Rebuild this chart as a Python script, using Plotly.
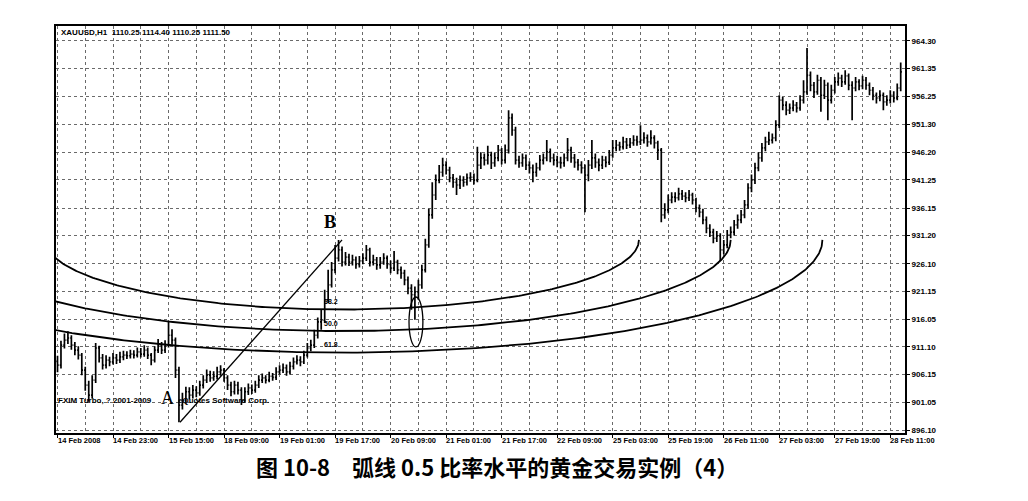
import math
import plotly.graph_objects as go

# ---------------- data ----------------
symbol_header = "XAUUSD,H1  1110.25 1114.40 1110.25 1111.50"
copyright_left = "FXIM Turbo, ? 2001-2009"
copyright_right = "eQuotes Software Corp."
caption_text = "图 10-8　弧线 0.5 比率水平的黄金交易实例（4）"

date_labels = ["14 Feb 2008", "14 Feb 23:00", "15 Feb 15:00", "18 Feb 09:00",
               "19 Feb 01:00", "19 Feb 17:00", "20 Feb 09:00", "21 Feb 01:00",
               "21 Feb 17:00", "22 Feb 09:00", "25 Feb 03:00", "25 Feb 19:00",
               "26 Feb 11:00", "27 Feb 03:00", "27 Feb 19:00", "28 Feb 11:00"]
bars_per_label = 16

price_ticks = [896.10, 901.05, 906.15, 911.10, 916.05, 921.15, 926.10, 931.20,
               936.15, 941.25, 946.20, 951.30, 956.25, 961.35, 966.30]
price_tick_text = ["896.10", "901.05", "906.15", "911.10", "916.05", "921.15",
                   "926.10", "931.20", "936.15", "941.25", "946.20", "951.30",
                   "956.25", "961.35", "964.30"]

first_open = 908.5
closes = [
    907.8, 911.4, 912.3, 912.7, 911.4, 910.5, 909.6, 906.9, 904.2, 902.4,
    905.1, 910.9, 909.1, 907.8, 908.7, 908.4, 909.1, 908.7, 909.3, 909.6,
    909.5, 909.8, 909.6, 910.2, 909.8, 910.5, 909.6, 908.7, 910.5, 911.4,
    910.5, 911.4, 913.2, 912.3, 906.9, 900.6, 901.5, 903.0, 902.4, 903.3,
    902.8, 904.2, 905.1, 906.0, 905.5, 905.8, 906.6, 906.9, 905.5, 904.2,
    903.0, 904.2, 903.3, 901.5, 903.0, 903.7, 903.3, 904.2, 905.1, 905.5,
    905.1, 905.8, 905.6, 906.6, 906.9, 907.3, 906.6, 907.6, 908.4, 908.7,
    908.4, 909.6, 910.9, 911.4, 913.2, 915.6, 915.9, 919.6, 922.3, 925.0,
    927.1, 928.6, 926.4, 927.3, 926.4, 926.8, 926.0, 926.6, 927.1, 928.6,
    926.4, 926.8, 925.9, 926.4, 927.1, 926.0, 925.3, 926.4, 925.0, 924.4,
    923.2, 921.7, 920.5, 921.0, 922.3, 925.0, 929.5, 934.9, 938.5, 941.2,
    942.6, 943.9, 943.0, 941.6, 940.8, 940.3, 941.2, 940.8, 941.6, 941.7,
    941.2, 943.9, 945.2, 944.8, 945.7, 944.3, 945.2, 946.6, 944.8, 946.6,
    952.4, 950.2, 944.8, 944.3, 945.2, 943.9, 943.4, 942.6, 943.4, 944.8,
    945.2, 946.3, 945.2, 944.8, 944.4, 944.3, 945.2, 946.6, 945.2, 944.4,
    943.9, 943.4, 942.1, 943.9, 945.2, 944.4, 943.9, 944.8, 944.4, 945.7,
    947.0, 947.5, 947.2, 948.1, 947.5, 947.9, 948.4, 948.1, 948.4, 948.8,
    948.1, 948.8, 947.9, 946.6, 934.9, 935.8, 937.6, 938.1, 938.0, 938.7,
    938.3, 938.0, 938.5, 937.6, 936.2, 935.4, 934.0, 932.5, 931.8, 930.7,
    931.1, 928.6, 929.5, 931.3, 931.8, 933.1, 934.0, 934.9, 936.7, 939.8,
    941.2, 943.4, 945.2, 947.0, 948.1, 948.4, 948.8, 951.1, 955.6, 954.7,
    953.8, 954.2, 954.7, 954.2, 955.6, 957.1, 960.1, 958.3, 957.1, 959.2,
    956.5, 958.3, 955.6, 957.4, 958.9, 959.6, 958.9, 960.0, 958.3, 957.8,
    958.9, 958.2, 959.2, 958.3, 957.4, 956.5, 956.0, 956.5, 955.3, 955.6,
    956.5, 956.0, 957.8, 960.7]
highs = [
    909.5, 912.2, 913.5, 913.9, 913.2, 912.0, 911.2, 910.0, 907.5, 905.0,
    906.0, 911.8, 911.3, 909.8, 909.6, 909.3, 910.0, 909.8, 910.2, 910.4,
    910.3, 910.6, 910.5, 911.0, 910.9, 911.4, 911.0, 910.0, 911.2, 912.5,
    912.0, 912.3, 915.6, 914.3, 912.8, 907.5, 902.8, 903.9, 903.8, 904.2,
    904.0, 905.0, 906.0, 907.0, 906.8, 906.7, 907.5, 907.8, 907.3, 906.0,
    904.8, 905.0, 904.8, 903.8, 903.8, 904.5, 904.3, 905.0, 906.0, 906.3,
    906.0, 906.6, 906.4, 907.4, 907.8, 908.1, 907.9, 908.4, 909.2, 909.6,
    909.4, 910.4, 911.8, 912.4, 914.2, 916.4, 917.8, 921.4, 925.0, 926.4,
    929.5, 930.4, 929.2, 928.2, 927.9, 927.7, 927.4, 927.5, 928.0, 929.5,
    929.0, 927.7, 927.3, 927.3, 928.0, 927.6, 926.7, 928.4, 926.8, 925.6,
    925.0, 923.8, 922.4, 922.0, 923.2, 925.9, 930.6, 936.0, 940.8, 942.2,
    943.9, 945.2, 944.6, 943.6, 942.3, 941.6, 942.0, 941.9, 942.4, 942.6,
    942.4, 947.2, 946.2, 946.0, 947.4, 946.3, 946.1, 947.5, 947.0, 947.6,
    953.8, 953.2, 950.8, 945.6, 946.0, 945.8, 944.6, 944.0, 944.3, 945.7,
    946.0, 948.4, 946.9, 946.0, 945.6, 945.4, 946.0, 948.8, 947.2, 945.9,
    945.0, 944.6, 944.0, 944.8, 948.4, 946.0, 945.1, 945.6, 945.5, 946.6,
    948.4, 948.4, 948.1, 949.0, 948.8, 948.8, 949.3, 949.2, 951.1, 949.8,
    949.4, 950.2, 949.3, 948.3, 947.0, 937.0, 938.6, 939.0, 939.0, 939.8,
    939.4, 939.0, 939.4, 938.9, 938.0, 936.8, 936.0, 934.6, 933.2, 932.4,
    932.0, 931.6, 930.4, 932.2, 932.8, 934.0, 935.0, 935.8, 937.6, 940.6,
    942.2, 944.3, 946.2, 947.9, 949.0, 949.9, 949.6, 952.0, 956.5, 956.2,
    955.4, 955.0, 955.6, 955.3, 956.5, 959.2, 965.0, 960.8, 958.9, 960.2,
    959.8, 959.3, 958.8, 958.4, 959.8, 960.6, 960.2, 961.0, 960.4, 959.0,
    959.8, 959.4, 960.0, 959.8, 958.8, 958.0, 957.0, 957.4, 957.0, 956.5,
    957.4, 957.2, 958.6, 962.4]
lows = [
    906.5, 907.2, 910.8, 911.6, 910.6, 909.6, 908.8, 906.0, 903.2, 901.2,
    901.8, 904.6, 908.3, 907.0, 907.2, 907.6, 907.9, 908.0, 908.2, 908.7,
    908.9, 909.0, 909.0, 909.2, 909.2, 909.3, 908.9, 907.8, 908.3, 910.0,
    909.8, 910.0, 911.0, 911.5, 905.5, 897.5, 899.8, 900.9, 901.6, 901.8,
    902.0, 902.3, 903.6, 904.6, 904.8, 905.0, 905.2, 905.9, 904.8, 903.3,
    902.2, 902.5, 902.5, 900.6, 901.0, 902.4, 902.6, 902.8, 903.7, 904.6,
    904.5, 904.7, 905.0, 905.1, 906.1, 906.4, 905.9, 906.1, 907.0, 907.9,
    907.6, 908.0, 909.2, 910.3, 910.9, 912.6, 914.2, 915.4, 919.0, 921.8,
    924.4, 926.5, 925.6, 925.8, 925.7, 925.8, 925.2, 925.4, 926.0, 926.6,
    925.6, 925.8, 925.0, 925.2, 925.9, 925.2, 924.4, 924.8, 924.2, 923.4,
    922.2, 920.6, 917.8, 916.0, 919.6, 921.6, 924.5, 929.0, 934.2, 937.6,
    940.6, 941.8, 942.2, 940.8, 939.8, 938.5, 939.6, 940.0, 940.2, 940.9,
    940.4, 940.8, 943.2, 943.8, 944.0, 943.2, 943.6, 944.6, 944.0, 944.2,
    946.0, 949.2, 944.0, 943.4, 943.6, 943.0, 942.4, 940.8, 941.8, 942.9,
    944.0, 944.6, 944.4, 943.8, 943.5, 943.3, 943.6, 944.6, 944.3, 943.4,
    942.9, 942.4, 935.4, 941.0, 943.2, 943.4, 942.8, 943.2, 943.5, 943.9,
    945.2, 946.4, 946.5, 946.7, 946.8, 947.0, 947.4, 947.4, 947.5, 947.8,
    947.2, 947.6, 946.9, 944.8, 933.6, 934.2, 935.2, 937.0, 937.2, 937.5,
    937.6, 937.2, 937.4, 936.8, 935.4, 934.5, 933.2, 931.6, 930.9, 929.8,
    930.0, 926.6, 927.8, 928.9, 930.7, 931.2, 932.4, 933.4, 934.3, 936.0,
    939.0, 940.5, 942.8, 944.5, 946.4, 947.5, 947.8, 948.2, 950.6, 953.8,
    952.9, 953.1, 953.6, 953.4, 953.7, 955.0, 956.6, 957.2, 956.0, 956.6,
    953.5, 955.8, 952.0, 955.0, 956.8, 958.2, 958.0, 958.4, 957.4, 952.0,
    957.2, 957.4, 957.6, 957.5, 956.5, 955.6, 955.0, 955.4, 953.8, 954.6,
    955.0, 955.2, 955.6, 957.2]

# Fibonacci arc construction points (bar index, price)
point_a = (35.3, 897.5)
point_b = (82.0, 930.4)
fib_ratios = [0.382, 0.5, 0.618]
fib_labels = ["38.2", "50.0", "61.8"]
arc_full_width_bars = 224          # horizontal radius of a 100% arc, in bars
highlight_bar, highlight_price = 103.3, 915.6   # circled low
highlight_half_bars, highlight_half_price = 2.0, 4.5

# ---------------- figure geometry ----------------
W, H = 1028, 501
ML, MR, MT, MB = 56, 123, 26, 68
PW, PH = W - ML - MR, H - MT - MB
BAR_PX = 3.47
X_RANGE = [-1.5 / BAR_PX, -1.5 / BAR_PX + PW / BAR_PX]
Y_RANGE = [895.56, 968.99]


def px_x(p):
    return (p - ML) / PW


def px_y(p):
    return (H - MB - p) / PH


n = min(len(closes), len(highs), len(lows))
bars = list(range(n))
opens = [first_open] + closes[:n - 1]

fig = go.Figure()

fig.add_trace(go.Ohlc(
    x=bars, open=opens, high=highs[:n], low=lows[:n], close=closes[:n],
    increasing=dict(line=dict(color="black", width=1.7)),
    decreasing=dict(line=dict(color="black", width=1.7)),
    tickwidth=0.35, hoverinfo="skip", showlegend=False))

# trend line A -> B
fig.add_trace(go.Scatter(
    x=[point_a[0], point_b[0]], y=[point_a[1], point_b[1]], mode="lines",
    line=dict(color="black", width=1.3), hoverinfo="skip", showlegend=False))

# Fibonacci arcs centred on B
span = point_b[1] - point_a[1]
steps = 300
for r in fib_ratios:
    rx = arc_full_width_bars * r
    ry = span * r
    xs, ys = [], []
    for k in range(steps + 1):
        t = math.pi * k / steps
        xs.append(point_b[0] + rx * math.cos(t))
        ys.append(point_b[1] - ry * math.sin(t))
    fig.add_trace(go.Scatter(x=xs, y=ys, mode="lines",
                             line=dict(color="black", width=1.8),
                             hoverinfo="skip", showlegend=False))

# ellipse around the low touching the 50% arc
fig.add_shape(type="circle", xref="x", yref="y",
              x0=highlight_bar - highlight_half_bars, x1=highlight_bar + highlight_half_bars,
              y0=highlight_price - highlight_half_price, y1=highlight_price + highlight_half_price,
              line=dict(color="black", width=1.3))

annotations = []
small = dict(family="Liberation Sans", size=8, color="black", weight="bold")

annotations.append(dict(xref="paper", yref="paper", x=px_x(59), y=px_y(33),
                        xanchor="left", yanchor="middle", showarrow=False,
                        text=symbol_header, font=small))
annotations.append(dict(xref="paper", yref="paper", x=px_x(56), y=px_y(400),
                        xanchor="left", yanchor="middle", showarrow=False,
                        text=copyright_left, font=small))
annotations.append(dict(xref="paper", yref="paper", x=px_x(176), y=px_y(400),
                        xanchor="left", yanchor="middle", showarrow=False,
                        text=copyright_right, font=small))

# fib level labels
for r, lab in zip(fib_ratios, fib_labels):
    annotations.append(dict(xref="x", yref="y", x=point_b[0] - 5.8,
                            y=point_b[1] - span * r, yshift=8,
                            xanchor="left", yanchor="middle", showarrow=False,
                            text=lab, font=dict(family="Liberation Sans", size=7,
                                                color="black", weight="bold")))

# A / B labels
annotations.append(dict(xref="x", yref="y", x=point_a[0], y=point_a[1],
                        xshift=-12, yshift=24, showarrow=False, text="A",
                        font=dict(family="Liberation Serif", size=18, color="black")))
annotations.append(dict(xref="x", yref="y", x=point_b[0], y=point_b[1],
                        xshift=-12, yshift=18, showarrow=False, text="B",
                        font=dict(family="Liberation Serif", size=18, color="black",
                                  weight="bold")))

# date labels (left aligned at their tick, MetaTrader style)
for k, lab in enumerate(date_labels):
    annotations.append(dict(xref="x", yref="paper", x=k * bars_per_label,
                            y=px_y(440), xshift=-2, xanchor="left", yanchor="middle",
                            showarrow=False, text=lab,
                            font=dict(family="Liberation Sans", size=7.5,
                                      color="black", weight="bold")))

# caption
annotations.append(dict(xref="paper", yref="paper", x=px_x(497), y=px_y(466),
                        xanchor="center", yanchor="middle", showarrow=False,
                        text=caption_text,
                        font=dict(family="Noto Sans CJK SC", size=22, color="black",
                                  weight="bold")))

grid = dict(showgrid=True, gridcolor="#6a6a6a", gridwidth=1, griddash="dot")

fig.update_layout(
    width=W, height=H,
    margin=dict(l=ML, r=MR, t=MT, b=MB, pad=0),
    paper_bgcolor="white", plot_bgcolor="white",
    showlegend=False,
    annotations=annotations,
    xaxis=dict(range=X_RANGE, tickmode="array",
               tickvals=[k * bars_per_label for k in range(len(date_labels))],
               showticklabels=False, ticks="outside", ticklen=3, tickcolor="black",
               showline=True, mirror=True, linecolor="black", linewidth=2,
               zeroline=False, rangeslider=dict(visible=False),
               minor=dict(tickmode="linear", tick0=0, dtick=bars_per_label / 2,
                          showgrid=True, gridcolor="#6a6a6a", griddash="dot",
                          gridwidth=1, ticks=""),
               **grid),
    yaxis=dict(range=Y_RANGE, side="right", tickmode="array",
               tickvals=price_ticks, ticktext=price_tick_text,
               ticks="outside", ticklen=3, tickcolor="black",
               tickfont=dict(family="Liberation Sans", size=8, color="black",
                             weight="bold"),
               showline=True, mirror=True, linecolor="black", linewidth=2,
               zeroline=False, **grid),
)

fig.write_html("out.html", config={"displayModeBar": False, "staticPlot": True},
               post_script="document.body.style.margin='0';")
